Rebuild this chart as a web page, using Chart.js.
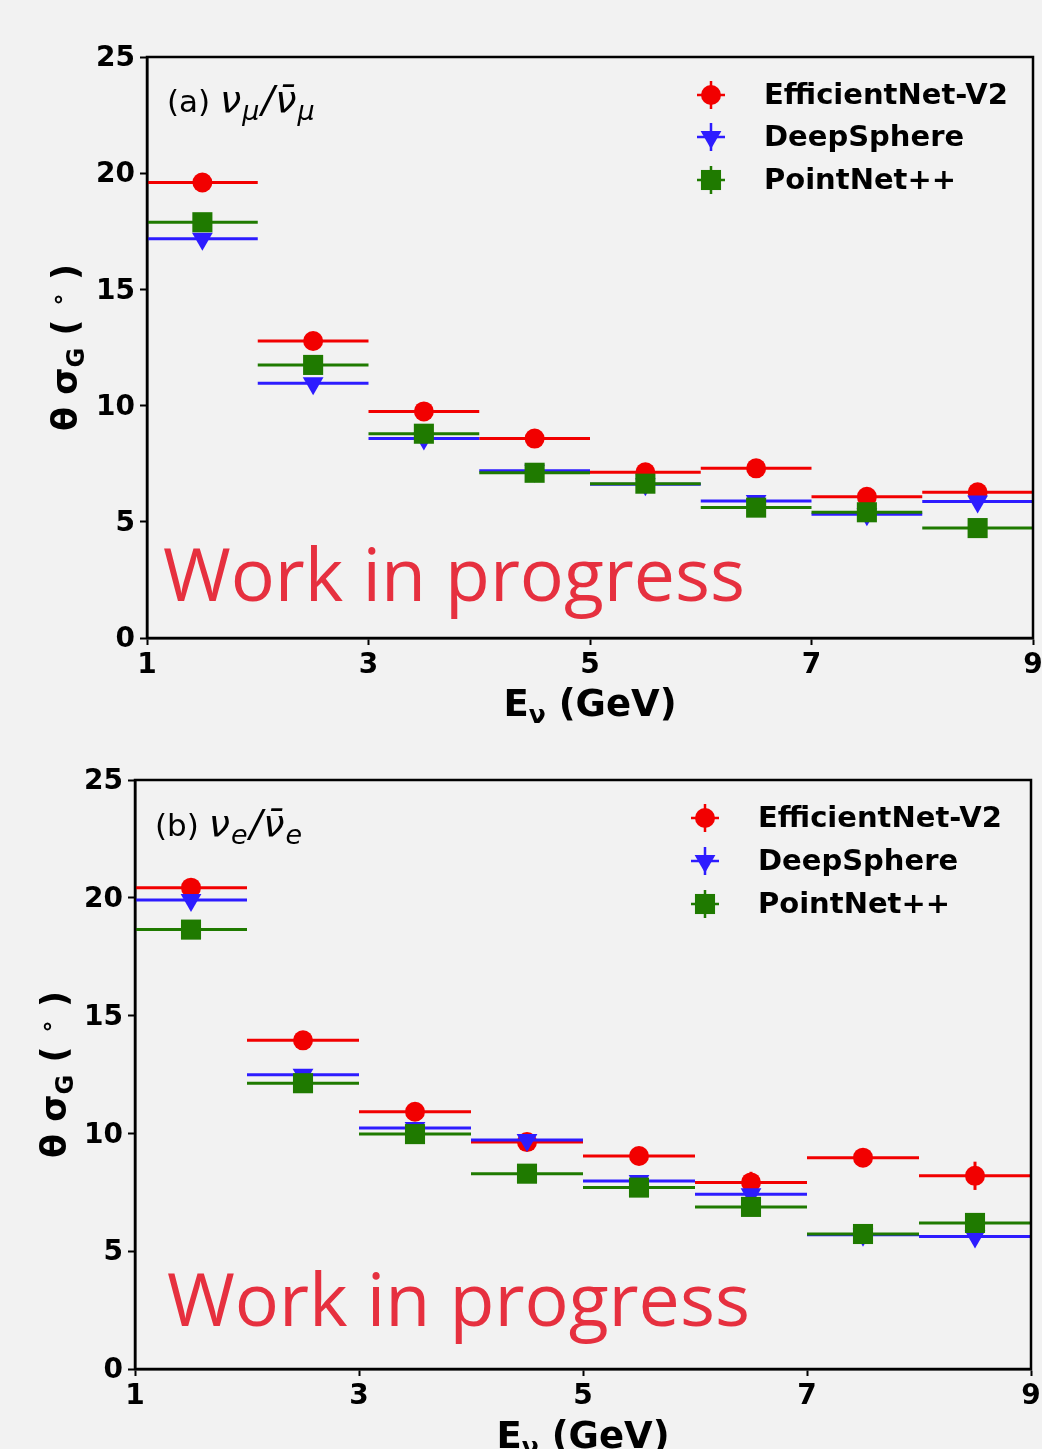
<!DOCTYPE html>
<html><head><meta charset="utf-8">
<script src="https://cdn.jsdelivr.net/npm/chart.js@4.4.0/dist/chart.umd.min.js"></script>
<style>
html,body{margin:0;padding:0;background:#f2f2f2;width:1042px;height:1449px;overflow:hidden}
.wrap{position:absolute;left:0;width:1042px;overflow:hidden}
</style></head><body>
<div class="wrap" style="top:0;height:730px"><canvas id="c1" width="1070" height="730"></canvas></div>
<div class="wrap" style="top:730px;height:719px"><canvas id="c2" width="1070" height="719"></canvas></div>
<script>
// ---------- data ----------
const binCenters = [1.5, 2.5, 3.5, 4.5, 5.5, 6.5, 7.5, 8.5];
const binHalfWidth = [0.5, 0.5, 0.5, 0.5, 0.5, 0.5, 0.5, 0.5];
const xTicks = [1, 3, 5, 7, 9];
const yTicks = [0, 5, 10, 15, 20, 25];
const seriesNames = ['EfficientNet-V2', 'DeepSphere', 'PointNet++'];

// (a) nu_mu / anti-nu_mu
const numuEffNet      = [19.60, 12.78, 9.75, 8.58, 7.13, 7.30, 6.08, 6.27];
const numuDeepSphere  = [17.18, 10.96, 8.58, 7.20, 6.62, 5.89, 5.32, 5.87];
const numuPointNet    = [17.89, 11.75, 8.79, 7.11, 6.64, 5.61, 5.41, 4.73];
const numuEffNetErr     = [0.15, 0.15, 0.15, 0.15, 0.15, 0.15, 0.15, 0.20];
const numuDeepSphereErr = [0.15, 0.15, 0.15, 0.15, 0.15, 0.15, 0.15, 0.20];
const numuPointNetErr   = [0.15, 0.15, 0.15, 0.15, 0.15, 0.15, 0.15, 0.20];

// (b) nu_e / anti-nu_e
const nueEffNet      = [20.43, 13.95, 10.92, 9.63, 9.04, 7.92, 8.97, 8.20];
const nueDeepSphere  = [19.91, 12.49, 10.23, 9.72, 7.98, 7.42, 5.70, 5.62];
const nuePointNet    = [18.65, 12.13, 9.97, 8.29, 7.70, 6.88, 5.73, 6.20];
const nueEffNetErr     = [0.15, 0.15, 0.15, 0.15, 0.20, 0.45, 0.30, 0.60];
const nueDeepSphereErr = [0.15, 0.15, 0.15, 0.15, 0.15, 0.20, 0.20, 0.25];
const nuePointNetErr   = [0.15, 0.15, 0.15, 0.15, 0.15, 0.20, 0.20, 0.25];

// ---------- styles ----------
const COLORS = ['#f20000', '#2d1cff', '#1f7a00'];
const MARKERS = [
  {pointStyle: 'circle', radius: 10, rotation: 0},
  {pointStyle: 'triangle', radius: 12, rotation: 180},
  {pointStyle: 'rect', radius: 14.2, rotation: 0}
];
const FONT = 'DejaVu Sans';

function richWidth(ctx, parts) {
  let w = 0;
  parts.forEach(p => { ctx.font = p.font; w += ctx.measureText(p.t).width + (p.gap || 0); });
  return w;
}
function drawRich(ctx, parts, x, y) {
  let cx = x;
  parts.forEach(p => {
    ctx.font = p.font;
    ctx.fillText(p.t, cx, y + (p.dy || 0));
    cx += ctx.measureText(p.t).width + (p.gap || 0);
  });
}

const panelPlugin = {
  id: 'panel',
  beforeDatasetDraw(chart, args) {
    const ds = chart.data.datasets[args.index];
    if (!ds.yErr) return;
    const {ctx, scales: {x, y}} = chart;
    ctx.save();
    ctx.strokeStyle = ds.borderColor;
    ctx.lineWidth = 3;
    ds.data.forEach((p, i) => {
      const yp = y.getPixelForValue(p.y);
      const xp = x.getPixelForValue(p.x);
      ctx.beginPath();
      ctx.moveTo(x.getPixelForValue(p.x - ds.xErr[i]), yp);
      ctx.lineTo(x.getPixelForValue(p.x + ds.xErr[i]), yp);
      ctx.stroke();
      ctx.beginPath();
      ctx.moveTo(xp, y.getPixelForValue(p.y - ds.yErr[i]));
      ctx.lineTo(xp, y.getPixelForValue(p.y + ds.yErr[i]));
      ctx.stroke();
    });
    ctx.restore();
  },
  afterDraw(chart, args, o) {
    const ctx = chart.ctx;
    const a = chart.chartArea;
    ctx.save();
    // frame
    ctx.strokeStyle = '#000';
    ctx.lineWidth = 2.5;
    ctx.strokeRect(a.left, a.top, a.right - a.left, a.bottom - a.top);

    ctx.fillStyle = '#000';
    ctx.textBaseline = 'alphabetic';
    // x title
    const xt = [
      {t: 'E', font: `bold 37px "${FONT}"`},
      {t: 'ν', font: `bold 25px "${FONT}"`, dy: 7},
      {t: ' (GeV)', font: `bold 37px "${FONT}"`}
    ];
    const cx = (a.left + a.right) / 2;
    drawRich(ctx, xt, cx - richWidth(ctx, xt) / 2, o.xTitleY);

    // y title
    const yt = [
      {t: 'θ σ', font: `bold 35px "${FONT}"`},
      {t: 'G', font: `bold 24px "${FONT}"`, dy: 7},
      {t: ' ( ', font: `bold 35px "${FONT}"`},
      {t: '∘', font: `bold 24px "${FONT}"`, dy: -11},
      {t: ' )', font: `bold 35px "${FONT}"`}
    ];
    ctx.save();
    ctx.translate(o.yTitleX, (a.top + a.bottom) / 2);
    ctx.rotate(-Math.PI / 2);
    drawRich(ctx, yt, -richWidth(ctx, yt) / 2, 0);
    ctx.restore();

    // panel annotation
    const reg = `31px "${FONT}"`, it = `oblique 38px "${FONT}"`, sub = `oblique 27px "${FONT}"`;
    drawRich(ctx, [
      {t: o.tag + ' ', font: reg},
      {t: 'ν', font: it, gap: 1},
      {t: o.flavour, font: sub, dy: 8, gap: 2},
      {t: '/', font: it, gap: 1},
      {t: 'ν\u0304', font: it, gap: 1},
      {t: o.flavour, font: sub, dy: 8}
    ], o.annotX, o.annotY);

    // legend
    chart.data.datasets.forEach((ds, i) => {
      const yy = o.legendY[i];
      ctx.strokeStyle = ds.borderColor;
      ctx.lineWidth = 2.5;
      ctx.beginPath();
      ctx.moveTo(o.legendMX - 14, yy); ctx.lineTo(o.legendMX + 14, yy);
      ctx.moveTo(o.legendMX, yy - 14); ctx.lineTo(o.legendMX, yy + 14);
      ctx.stroke();
      ctx.fillStyle = ds.backgroundColor;
      Chart.helpers.drawPoint(ctx, {
        pointStyle: ds.pointStyle, radius: ds.pointRadius, rotation: ds.pointRotation, borderWidth: 0
      }, o.legendMX, yy);
      ctx.fillStyle = '#000';
      ctx.font = `bold 29px "${FONT}"`;
      ctx.textBaseline = 'middle';
      ctx.fillText(ds.label, o.legendTX, yy + 1);
      ctx.textBaseline = 'alphabetic';
    });

    // watermark
    ctx.fillStyle = '#e6303f';
    ctx.font = `72px "Open Sans"`;
    const w = ctx.measureText('Work in progress').width;
    const size = 72 * o.wipW / w;
    ctx.font = `${size}px "Open Sans"`;
    ctx.fillText('Work in progress', o.wipX, o.wipY);
    ctx.restore();
  }
};

function makePanel(id, series, errs, cfg) {
  const datasets = series.map((vals, i) => ({
    label: seriesNames[i],
    data: vals.map((v, j) => ({x: binCenters[j], y: v})),
    xErr: binHalfWidth,
    yErr: errs[i],
    borderColor: COLORS[i],
    backgroundColor: COLORS[i],
    pointBackgroundColor: COLORS[i],
    pointStyle: MARKERS[i].pointStyle,
    pointRadius: MARKERS[i].radius,
    pointRotation: MARKERS[i].rotation,
    pointBorderWidth: 0,
    showLine: false,
    order: 3 - i
  }));
  return new Chart(document.getElementById(id), {
    type: 'scatter',
    data: {datasets},
    options: {
      responsive: false,
      animation: false,
      devicePixelRatio: 1,
      layout: {padding: {left: 0, right: cfg.padRight, top: cfg.padTop, bottom: 0}},
      plugins: {legend: {display: false}, tooltip: {enabled: false}, panel: cfg},
      scales: {
        x: {
          type: 'linear', min: 1, max: 9,
          afterBuildTicks: s => { s.ticks = xTicks.map(v => ({value: v})); },
          afterFit: s => { s.height = cfg.xAxisH; },
          grid: {drawOnChartArea: false, drawTicks: true, tickLength: 7, tickWidth: 2, tickColor: '#000'},
          border: {display: true, color: '#000', width: 2.5},
          ticks: {color: '#000', padding: 4, maxRotation: 0, font: {family: FONT, weight: 'bold', size: 28}}
        },
        y: {
          type: 'linear', min: 0, max: 25,
          afterBuildTicks: s => { s.ticks = yTicks.map(v => ({value: v})); },
          afterFit: s => { s.width = cfg.yAxisW; },
          grid: {drawOnChartArea: false, drawTicks: true, tickLength: 7, tickWidth: 2, tickColor: '#000'},
          border: {display: true, color: '#000', width: 2.5},
          ticks: {color: '#000', padding: 5, labelOffset: 2, font: {family: FONT, weight: 'bold', size: 28}}
        }
      }
    },
    plugins: [panelPlugin]
  });
}

// canvases are 1070 wide (clipped to 1042) so the right tick label has room
makePanel('c1', [numuEffNet, numuDeepSphere, numuPointNet],
  [numuEffNetErr, numuDeepSphereErr, numuPointNetErr], {
    padTop: 57, padRight: 37, yAxisW: 147, xAxisH: 92,
    xTitleY: 716, yTitleX: 77, tag: '(a)', flavour: 'μ', annotX: 167, annotY: 112,
    legendMX: 711, legendTX: 764, legendY: [95, 137, 180],
    wipX: 163, wipY: 601, wipW: 582
  });
makePanel('c2', [nueEffNet, nueDeepSphere, nuePointNet],
  [nueEffNetErr, nueDeepSphereErr, nuePointNetErr], {
    padTop: 50, padRight: 39, yAxisW: 135, xAxisH: 80,
    xTitleY: 718, yTitleX: 66, tag: '(b)', flavour: 'e', annotX: 155, annotY: 106,
    legendMX: 705, legendTX: 758, legendY: [88, 131, 174],
    wipX: 167, wipY: 596, wipW: 583
  });
</script>
</body></html>
